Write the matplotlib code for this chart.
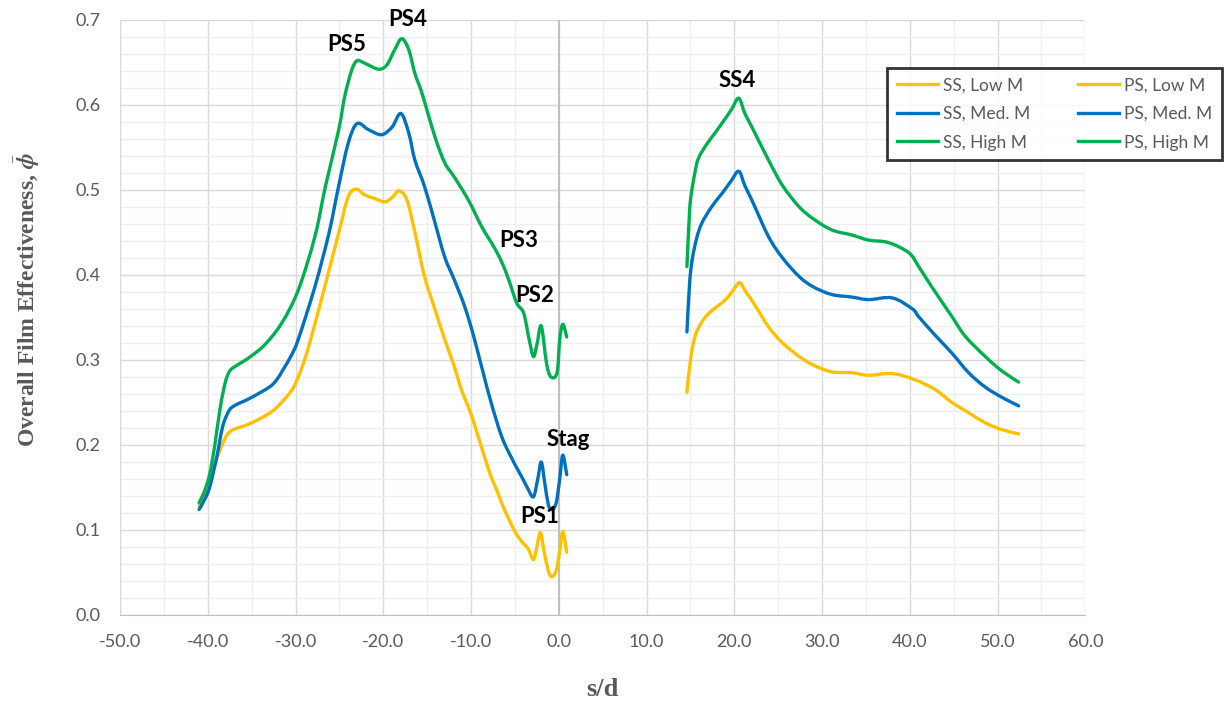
"""Overall film effectiveness along the surface, pressure and suction sides."""

import matplotlib
matplotlib.use("Agg")
import matplotlib.pyplot as plt
import numpy as np
from matplotlib.lines import Line2D
from matplotlib.patches import PathPatch
from matplotlib.path import Path
from matplotlib.ticker import MultipleLocator

plt.rcParams.update({
    "font.family": ["Lato", "DejaVu Sans"],
    "mathtext.fontset": "stix",
    "figure.dpi": 100,
})

COLORS = {
    "low": "#FFC000",
    "med": "#0070C0",
    "high": "#00B050",
}
TEXT_GRAY = "#595959"

# ------------------------------------------------------------
# Pressure side (s/d < 0)
# ------------------------------------------------------------
ps_high_s = [-41.0, -40.4, -39.8, -39.2, -38.6, -38.0, -37.5, -36.8, -36.0, -35.0,
             -33.5, -31.6, -29.7, -27.8, -26.6, -25.1, -24.4, -23.6, -23.0, -22.3,
             -21.7, -20.5, -19.6, -18.7, -17.9, -17.1, -16.4, -15.6, -14.1, -13.0,
             -11.9, -10.3, -8.8, -7.4, -6.5, -5.7, -4.8, -4.0, -3.4, -2.9,
             -2.5, -2.0, -1.4, -0.9, -0.2, 0.1, 0.45, 0.9]
ps_high_phi = [0.132, 0.145, 0.165, 0.200, 0.243, 0.274, 0.287, 0.293, 0.298, 0.305,
               0.318, 0.343, 0.382, 0.445, 0.504, 0.570, 0.610, 0.641, 0.652, 0.650,
               0.647, 0.642, 0.647, 0.665, 0.678, 0.665, 0.637, 0.614, 0.562, 0.532,
               0.515, 0.488, 0.457, 0.433, 0.415, 0.394, 0.367, 0.355, 0.325, 0.304,
               0.318, 0.340, 0.296, 0.280, 0.285, 0.324, 0.342, 0.327]

ps_med_s = [-41.0, -40.4, -39.8, -39.0, -38.3, -37.6, -37.0, -36.0, -35.0, -33.0,
            -32.2, -31.4, -30.5, -29.7, -27.8, -26.2, -25.1, -24.0, -23.0, -21.7,
            -20.2, -19.0, -18.0, -17.1, -16.4, -15.3, -14.1, -13.0, -11.9, -10.7,
            -9.6, -8.2, -7.0, -6.2, -5.0, -4.2, -3.6, -2.9, -2.4, -2.0,
            -1.6, -1.2, -0.8, -0.3, 0.1, 0.45, 0.9]
ps_med_phi = [0.124, 0.135, 0.150, 0.185, 0.222, 0.240, 0.246, 0.251, 0.256, 0.268,
              0.276, 0.289, 0.305, 0.324, 0.386, 0.449, 0.504, 0.555, 0.578, 0.571,
              0.565, 0.574, 0.590, 0.567, 0.535, 0.504, 0.461, 0.421, 0.394, 0.362,
              0.324, 0.268, 0.225, 0.202, 0.177, 0.162, 0.150, 0.139, 0.160, 0.180,
              0.155, 0.130, 0.124, 0.132, 0.160, 0.188, 0.165]

ps_low_s = [-41.0, -40.4, -39.8, -39.3, -38.5, -37.8, -37.1, -36.0, -35.0, -33.5,
            -32.5, -31.6, -30.4, -29.5, -28.5, -26.7, -25.0, -24.0, -23.1, -22.1,
            -21.0, -19.8, -18.9, -18.2, -17.3, -16.4, -15.3, -14.1, -13.0, -11.9,
            -11.1, -9.9, -8.0, -7.0, -6.2, -5.0, -4.2, -3.5, -2.9, -2.5,
            -2.1, -1.7, -1.2, -0.8, -0.3, 0.1, 0.45, 0.9]
ps_low_phi = [0.128, 0.140, 0.158, 0.174, 0.197, 0.212, 0.218, 0.222, 0.226, 0.234,
              0.241, 0.250, 0.265, 0.285, 0.316, 0.385, 0.453, 0.492, 0.501, 0.494,
              0.490, 0.486, 0.492, 0.499, 0.488, 0.450, 0.398, 0.359, 0.324, 0.292,
              0.265, 0.233, 0.171, 0.145, 0.124, 0.098, 0.086, 0.078, 0.065, 0.080,
              0.097, 0.076, 0.052, 0.045, 0.052, 0.075, 0.098, 0.074]

# ------------------------------------------------------------
# Suction side (s/d > 0)
# ------------------------------------------------------------
ss_high_s = [14.6, 14.8, 15.0, 15.5, 15.9, 16.8, 17.8, 18.9, 19.7, 20.5,
             21.2, 22.0, 23.9, 25.5, 27.4, 29.0, 31.1, 33.4, 35.3, 37.6,
             39.9, 41.0, 42.5, 44.8, 46.3, 48.6, 50.5, 52.4]
ss_high_phi = [0.410, 0.455, 0.488, 0.520, 0.537, 0.553, 0.567, 0.583, 0.595, 0.608,
               0.590, 0.574, 0.535, 0.505, 0.480, 0.466, 0.453, 0.447, 0.441, 0.438,
               0.426, 0.410, 0.386, 0.351, 0.328, 0.304, 0.287, 0.274]

ss_med_s = [14.6, 14.9, 15.2, 15.7, 16.3, 17.4, 18.6, 19.6, 20.5, 21.2,
            22.0, 23.9, 25.5, 27.4, 29.0, 31.1, 33.4, 35.3, 38.0, 40.3,
            41.0, 42.8, 44.8, 46.7, 48.6, 50.5, 52.4]
ss_med_phi = [0.333, 0.390, 0.418, 0.443, 0.461, 0.480, 0.496, 0.510, 0.522, 0.505,
              0.488, 0.445, 0.420, 0.398, 0.386, 0.377, 0.374, 0.371, 0.373, 0.360,
              0.351, 0.330, 0.308, 0.285, 0.268, 0.256, 0.246]

ss_low_s = [14.6, 15.0, 15.5, 16.2, 17.1, 18.9, 19.8, 20.6, 21.3, 22.0,
            23.9, 25.5, 27.4, 29.0, 31.1, 33.4, 35.3, 38.0, 40.5, 42.9,
            44.8, 46.7, 48.6, 50.5, 52.4]
ss_low_phi = [0.262, 0.300, 0.327, 0.343, 0.355, 0.370, 0.381, 0.391, 0.380, 0.370,
              0.339, 0.320, 0.304, 0.294, 0.286, 0.285, 0.282, 0.284, 0.277, 0.265,
              0.250, 0.238, 0.226, 0.218, 0.213]

# Row labels for the hole rows / stagnation line
row_labels = ["PS5", "PS4", "PS3", "PS2", "Stag", "PS1", "SS4"]
row_label_s = [-24.2, -17.2, -4.6, -2.8, 1.1, -2.2, 20.3]
row_label_phi = [0.671, 0.700, 0.440, 0.376, 0.207, 0.116, 0.629]


def smooth_curve(ax, xs, ys, color, lw):
    """Spreadsheet-style smoothed line: cubic Bezier through every data point."""
    p = np.column_stack([xs, ys]).astype(float)
    ext = np.vstack([p[0], p, p[-1]])
    verts = [p[0]]
    codes = [Path.MOVETO]
    for i in range(len(p) - 1):
        p0, p1, p2, p3 = ext[i], ext[i + 1], ext[i + 2], ext[i + 3]
        verts += [p1 + (p2 - p0) / 6.0, p2 - (p3 - p1) / 6.0, p2]
        codes += [Path.CURVE4] * 3
    patch = PathPatch(Path(verts, codes), fill=False, edgecolor=color, lw=lw,
                      capstyle="round", joinstyle="round", zorder=3)
    ax.add_patch(patch)


fig = plt.figure(figsize=(12.25, 7.05))
ax = fig.add_axes([0.098, 0.1277, 0.788, 0.844])

lw = 2.4
series = [
    (ss_low_s, ss_low_phi, "low", "SS, Low M"),
    (ss_med_s, ss_med_phi, "med", "SS, Med. M"),
    (ss_high_s, ss_high_phi, "high", "SS, High M"),
    (ps_low_s, ps_low_phi, "low", "PS, Low M"),
    (ps_med_s, ps_med_phi, "med", "PS, Med. M"),
    (ps_high_s, ps_high_phi, "high", "PS, High M"),
]
handles = []
for xs, ys, key, label in series:
    smooth_curve(ax, xs, ys, COLORS[key], lw)
    handles.append(Line2D([], [], color=COLORS[key], lw=lw, label=label))

for lab, s, p in zip(row_labels, row_label_s, row_label_phi):
    ax.text(s, p, lab, ha="center", va="center", fontsize=16,
            fontweight="bold", color="black")

ax.set_xlim(-50, 60)
ax.set_ylim(0, 0.7)
ax.xaxis.set_major_locator(MultipleLocator(10))
ax.xaxis.set_minor_locator(MultipleLocator(5))
ax.yaxis.set_major_locator(MultipleLocator(0.1))
ax.yaxis.set_minor_locator(MultipleLocator(0.02))
ax.xaxis.set_major_formatter(lambda v, _: f"{v:.1f}")
ax.yaxis.set_major_formatter(lambda v, _: f"{v:.1f}")
ax.grid(which="major", color="#D9D9D9", linewidth=1.0)
ax.grid(which="minor", color="#EFEFEF", linewidth=1.0)
ax.set_axisbelow(True)
ax.axvline(0, color="#BFBFBF", linewidth=1.4, zorder=1)

ax.tick_params(which="both", length=0, labelsize=13, labelcolor=TEXT_GRAY, pad=14)
for side in ["top", "right"]:
    ax.spines[side].set_visible(False)
ax.spines["left"].set_color("#D9D9D9")
ax.spines["bottom"].set_color("#BFBFBF")

fig.text(602 / 1225, 1 - 690 / 705, "s/d", ha="center", va="center",
         fontsize=19, fontweight="bold", color=TEXT_GRAY, family="Liberation Serif")
fig.text(27 / 1225, 1 - 300 / 705,
         r"Overall Film Effectiveness, $\bar{\boldsymbol{\phi}}$",
         ha="center", va="center", rotation=90, fontsize=17, fontweight="bold",
         color=TEXT_GRAY, family="Liberation Serif")

leg = fig.legend(handles=handles, ncol=2, loc="upper left",
                 bbox_to_anchor=(887 / 1225, 1 - 68 / 705), borderaxespad=0,
                 fontsize=12.5, frameon=True, fancybox=False, edgecolor="black",
                 handlelength=2.4, columnspacing=2.7, labelspacing=0.72,
                 borderpad=0.55, handletextpad=0.3)
leg.get_frame().set_linewidth(2.0)
for t in leg.get_texts():
    t.set_color(TEXT_GRAY)

fig.savefig("out.png", dpi=100)
